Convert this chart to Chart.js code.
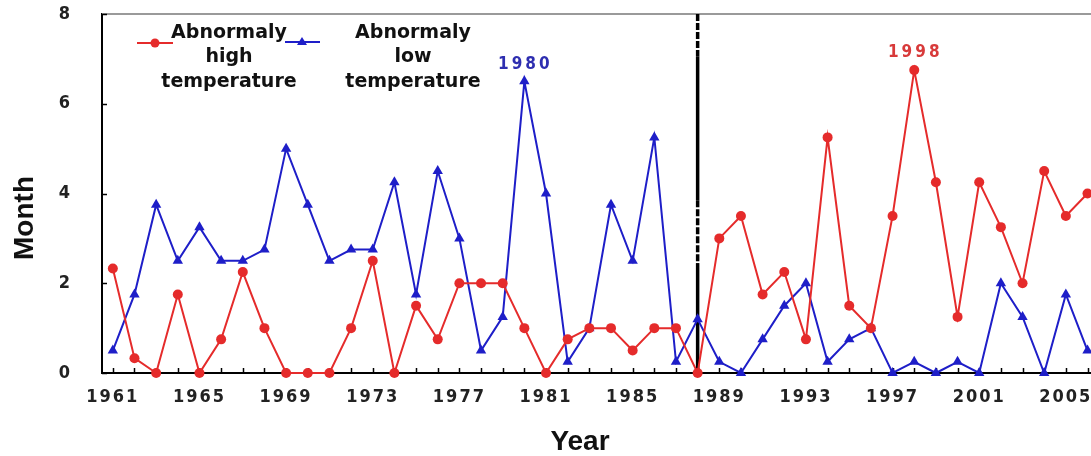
<!DOCTYPE html>
<html><head><meta charset="utf-8">
<script src="https://cdn.jsdelivr.net/npm/chart.js@4/dist/chart.umd.min.js"></script>
<style>html,body{margin:0;padding:0;background:#fff;overflow:hidden;width:1091px;height:456px}canvas{display:block}</style>
</head><body>
<canvas id="c" width="1130" height="456"></canvas>
<script>
const years = [1961,1962,1963,1964,1965,1966,1967,1968,1969,1970,1971,1972,1973,1974,1975,1976,1977,1978,1979,1980,1981,1982,1983,1984,1985,1986,1987,1988,1989,1990,1991,1992,1993,1994,1995,1996,1997,1998,1999,2000,2001,2002,2003,2004,2005,2006];
const highTemp = [2.33,0.33,0,1.75,0,0.75,2.25,1.0,0,0,0,1.0,2.5,0,1.5,0.75,2.0,2.0,2.0,1.0,0,0.75,1.0,1.0,0.5,1.0,1.0,0,3.0,3.5,1.75,2.25,0.75,5.25,1.5,1.0,3.5,6.75,4.25,1.25,4.25,3.25,2.0,4.5,3.5,4.0];
const lowTemp = [0.5,1.75,3.75,2.5,3.25,2.5,2.5,2.75,5.0,3.75,2.5,2.75,2.75,4.25,1.75,4.5,3.0,0.5,1.25,6.5,4.0,0.25,1.0,3.75,2.5,5.25,0.25,1.2,0.25,0,0.75,1.5,2.0,0.25,0.75,1.0,0,0.25,0,0.25,0,2.0,1.25,0,1.75,0.5];
const xTickYears = [1961,1965,1969,1973,1977,1981,1985,1989,1993,1997,2001,2005];
const yTickValues = [0,2,4,6,8];
const legendHigh = ['Abnormaly','high','temperature'];
const legendLow = ['Abnormaly','low','temperature'];
const peakLowYear = 1980, peakLowLabel = '1980';
const peakHighYear = 1998, peakHighLabel = '1998';
const dividerYear = 1988;
const xTitle = 'Year', yTitle = 'Month';

const RED = '#e52b2b', BLUE = '#1e1ec8';
const tickFont = '"Liberation Sans Narrow","DejaVu Sans Condensed","Liberation Sans",sans-serif';

const decorPlugin = {
  id: 'decor',
  beforeDraw(chart) { chart.ctx.letterSpacing = '2px'; },
  beforeDatasetsDraw(chart) {
    const ctx = chart.ctx; ctx.letterSpacing = '0px';
    const a = chart.chartArea, xs = chart.scales.x, ys = chart.scales.y;
    ctx.save();
    // top border
    ctx.strokeStyle = '#9a9a9a'; ctx.lineWidth = 2;
    ctx.beginPath(); ctx.moveTo(a.left, a.top); ctx.lineTo(chart.width, a.top); ctx.stroke();
    // inward x ticks every year
    ctx.strokeStyle = '#000'; ctx.lineWidth = 1.5;
    for (let yv = 1961; yv <= 2007; yv++) {
      const px = Math.round(xs.getPixelForValue(yv)) + 0.5;
      ctx.beginPath(); ctx.moveTo(px, a.bottom); ctx.lineTo(px, a.bottom - 5); ctx.stroke();
    }
    // inward y ticks
    for (const v of yTickValues) {
      const py = Math.round(ys.getPixelForValue(v)) + 0.5;
      ctx.beginPath(); ctx.moveTo(a.left, py); ctx.lineTo(a.left + 5, py); ctx.stroke();
    }
    // divider line
    const dx = xs.getPixelForValue(dividerYear);
    ctx.strokeStyle = '#000'; ctx.lineWidth = 3.5;
    const seg = (v1, v2, dash) => { ctx.setLineDash(dash); ctx.beginPath(); ctx.moveTo(dx, ys.getPixelForValue(v1)); ctx.lineTo(dx, ys.getPixelForValue(v2)); ctx.stroke(); };
    seg(8, 7.05, [7, 2]); seg(7.05, 3.85, []); seg(3.85, 2.45, [7, 2]); seg(2.45, 0, []);
    ctx.setLineDash([]);
    ctx.restore();
  },
  afterDraw(chart) {
    const ctx = chart.ctx, xs = chart.scales.x, ys = chart.scales.y;
    ctx.save();
    ctx.letterSpacing = '0px';
    // axis titles
    ctx.fillStyle = '#111';
    ctx.font = 'bold 28px "Liberation Sans", Arial, sans-serif';
    ctx.textAlign = 'center'; ctx.textBaseline = 'alphabetic';
    ctx.fillText(xTitle, 580, 450);
    ctx.save(); ctx.translate(33, 218); ctx.rotate(-Math.PI / 2); ctx.fillText(yTitle, 0, 0); ctx.restore();
    // legend
    ctx.font = 'bold 19px "DejaVu Sans", sans-serif';
    ctx.fillStyle = '#111';
    const rows = [38, 62, 87];
    legendHigh.forEach((t, i) => ctx.fillText(t, 229, rows[i]));
    legendLow.forEach((t, i) => ctx.fillText(t, 413, rows[i]));
    ctx.lineWidth = 2;
    ctx.strokeStyle = RED; ctx.beginPath(); ctx.moveTo(137, 43); ctx.lineTo(173, 43); ctx.stroke();
    ctx.fillStyle = RED; ctx.beginPath(); ctx.arc(155, 43, 4.5, 0, Math.PI * 2); ctx.fill();
    ctx.strokeStyle = BLUE; ctx.beginPath(); ctx.moveTo(285, 42); ctx.lineTo(320, 42); ctx.stroke();
    ctx.fillStyle = BLUE; ctx.beginPath(); ctx.moveTo(302, 37); ctx.lineTo(307, 45); ctx.lineTo(297, 45); ctx.closePath(); ctx.fill();
    // peak annotations
    ctx.font = 'bold 17px ' + tickFont;
    ctx.letterSpacing = '3px';
    ctx.fillStyle = '#2e2eb0';
    ctx.textBaseline = 'middle';
    ctx.fillText(peakLowLabel, xs.getPixelForValue(peakLowYear) + 1, ys.getPixelForValue(lowTemp[years.indexOf(peakLowYear)]) - 17);
    ctx.fillStyle = '#d83a3a';
    ctx.fillText(peakHighLabel, xs.getPixelForValue(peakHighYear) + 1, ys.getPixelForValue(highTemp[years.indexOf(peakHighYear)]) - 18);
    ctx.restore();
  }
};

new Chart(document.getElementById('c'), {
  type: 'line',
  data: {
    datasets: [
      { label: 'Abnormaly high temperature', data: years.map((y, i) => ({ x: y, y: highTemp[i] })),
        borderColor: RED, backgroundColor: RED, borderWidth: 2, pointStyle: 'circle', pointRadius: 5, pointBorderWidth: 0, tension: 0, clip: false },
      { label: 'Abnormaly low temperature', data: years.map((y, i) => ({ x: y, y: lowTemp[i] })),
        borderColor: BLUE, backgroundColor: BLUE, borderWidth: 2, pointStyle: 'triangle', pointRadius: 6, pointBorderWidth: 0, tension: 0, clip: false }
    ]
  },
  options: {
    responsive: false, animation: false,
    layout: { padding: { top: 14, right: 10, left: 0, bottom: 0 } },
    plugins: { legend: { display: false }, tooltip: { enabled: false } },
    scales: {
      x: {
        type: 'linear', min: 1960.5, max: 2007.5,
        afterFit(s) { s.height = 83; s.paddingLeft = 0; s.paddingRight = 0; s.paddingTop = 0; s.paddingBottom = 0; },
        afterBuildTicks(s) { s.ticks = xTickYears.map(v => ({ value: v })); },
        ticks: { autoSkip: false, maxRotation: 0, padding: 14, color: '#222', font: { family: tickFont, size: 18, weight: 'bold' }, callback: v => String(v) },
        grid: { display: true, drawOnChartArea: false, drawTicks: false },
        border: { display: true, color: '#000', width: 2 }
      },
      y: {
        min: 0, max: 8,
        afterFit(s) { s.width = 102; s.paddingTop = 0; s.paddingBottom = 0; s.paddingLeft = 0; s.paddingRight = 0; },
        afterBuildTicks(s) { s.ticks = yTickValues.map(v => ({ value: v })); },
        ticks: { padding: 30, color: '#222', font: { family: tickFont, size: 18, weight: 'bold' } },
        grid: { display: true, drawOnChartArea: false, drawTicks: false },
        border: { display: true, color: '#000', width: 2 }
      }
    }
  },
  plugins: [decorPlugin]
});
</script>
</body></html>
